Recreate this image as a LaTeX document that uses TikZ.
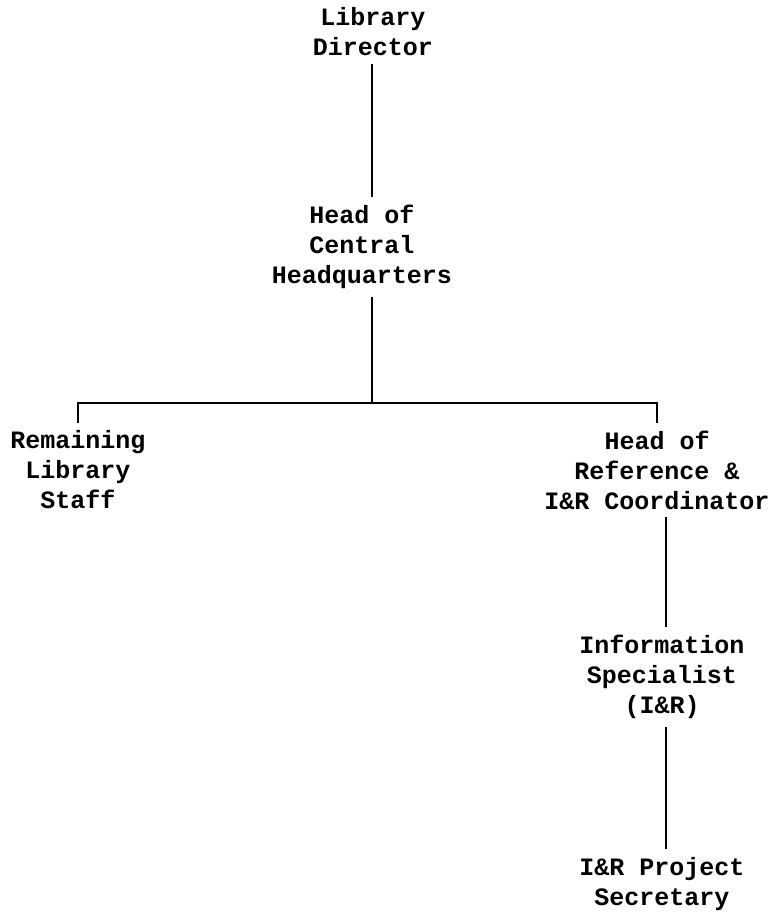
\documentclass[tikz,border=0pt]{standalone}
\usepackage{fontspec}
\setmonofont{Liberation Mono}
\begin{document}
\begin{tikzpicture}[x=1pt,y=-1pt,
  box/.style={align=center,inner sep=0pt,outer sep=8pt,
    font=\ttfamily\bfseries\fontsize{25}{30}\selectfont},
  link/.style={draw=black,line width=1.1pt}]
\useasboundingbox (0,0) rectangle (778,917);
\node[box] (ld) at (373,32) {Library\\Director};
\node[box] (hq) at (362,247) {Head of\\Central\\Headquarters};
\node[box] (rls) at (78,470) {Remaining\\Library\\Staff};
\node[box] (href) at (657,470) {Head of\\Reference \&\\I\&R Coordinator};
\node[box] (is) at (662,677) {Information\\Specialist\\(I\&R)};
\node[box] (sec) at (662,884) {I\&R Project\\Secretary};
\coordinate (j) at (372,403);
\draw[link] (ld.south -| j) -- (hq.north -| j);
\draw[link] (hq.south -| j) -- (j);
\draw[link] (rls.north) |- (j) -| (href.north);
\draw[link] (href.south -| 666,0) -- (is.north -| 666,0);
\draw[link] (is.south -| 666,0) -- (sec.north -| 666,0);
\end{tikzpicture}
\end{document}
